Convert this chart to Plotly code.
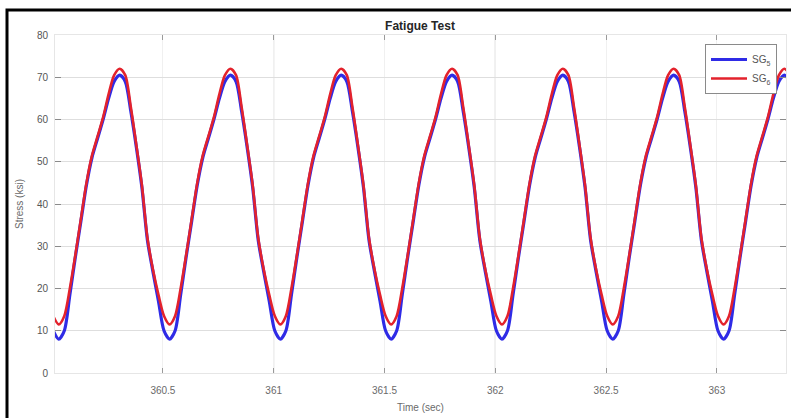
import plotly.graph_objects as go

# ---- data ----
t_start = 360.005          # first sample (s)
t_step = 0.025             # sample spacing (s)

sg5 = [10,
       8, 10, 18.5, 27.5, 36, 44.5, 51, 55.5, 60, 65, 69, 70.5, 69, 62, 53.5, 44, 31.5, 24, 17, 10,
       8, 10, 18.5, 27.5, 36, 44.5, 51, 55.5, 60, 65, 69, 70.5, 69, 62, 53.5, 44, 31.5, 24, 17, 10,
       8, 10, 18.5, 27.5, 36, 44.5, 51, 55.5, 60, 65, 69, 70.5, 69, 62, 53.5, 44, 31.5, 24, 17, 10,
       8, 10, 18.5, 27.5, 36, 44.5, 51, 55.5, 60, 65, 69, 70.5, 69, 62, 53.5, 44, 31.5, 24, 17, 10,
       8, 10, 18.5, 27.5, 36, 44.5, 51, 55.5, 60, 65, 69, 70.5, 69, 62, 53.5, 44, 31.5, 24, 17, 10,
       8, 10, 18.5, 27.5, 36, 44.5, 51, 55.5, 60, 65, 69, 70.5, 69, 62, 53.5, 44, 31.5, 24, 17, 10,
       8, 10, 18.5, 27.5, 36, 44.5, 51, 55.5, 60, 65, 69, 70.5, 69]

sg6 = [13.5,
       11.5, 13.5, 20, 28, 36.5, 45, 51.5, 56, 60.5, 66, 70.5, 72, 70.5, 63, 54, 44.5, 32, 24.5, 18.5, 13.5,
       11.5, 13.5, 20, 28, 36.5, 45, 51.5, 56, 60.5, 66, 70.5, 72, 70.5, 63, 54, 44.5, 32, 24.5, 18.5, 13.5,
       11.5, 13.5, 20, 28, 36.5, 45, 51.5, 56, 60.5, 66, 70.5, 72, 70.5, 63, 54, 44.5, 32, 24.5, 18.5, 13.5,
       11.5, 13.5, 20, 28, 36.5, 45, 51.5, 56, 60.5, 66, 70.5, 72, 70.5, 63, 54, 44.5, 32, 24.5, 18.5, 13.5,
       11.5, 13.5, 20, 28, 36.5, 45, 51.5, 56, 60.5, 66, 70.5, 72, 70.5, 63, 54, 44.5, 32, 24.5, 18.5, 13.5,
       11.5, 13.5, 20, 28, 36.5, 45, 51.5, 56, 60.5, 66, 70.5, 72, 70.5, 63, 54, 44.5, 32, 24.5, 18.5, 13.5,
       11.5, 13.5, 20, 28, 36.5, 45, 51.5, 56, 60.5, 66, 70.5, 72, 70.5]

x_tick_vals = [360.5, 361, 361.5, 362, 362.5, 363]
x_tick_text = ["360.5", "361", "361.5", "362", "362.5", "363"]
y_tick_vals = [0, 10, 20, 30, 40, 50, 60, 70, 80]

time = [round(t_start + i * t_step, 4) for i in range(len(sg5))]

# ---- figure ----
fig = go.Figure()
fig.add_trace(go.Scatter(x=time, y=sg5, mode="lines", name="SG<sub>5</sub>",
                         line=dict(color="#2f2be6", width=3.2, shape="spline", smoothing=0.8)))
fig.add_trace(go.Scatter(x=time, y=sg6, mode="lines", name="SG<sub>6</sub>",
                         line=dict(color="#e3222c", width=2.6, shape="spline", smoothing=0.8)))

font_fam = "Liberation Sans, Arial, sans-serif"

fig.update_layout(
    width=791, height=418,
    margin=dict(l=55, r=5, t=35, b=45),
    paper_bgcolor="white", plot_bgcolor="white",
    font=dict(family=font_fam, size=10, color="#555555"),
    showlegend=True,
    title=dict(text="<b>Fatigue Test</b>", x=0.531, xanchor="center",
               y=1 - 26 / 418, yanchor="middle",
               font=dict(family=font_fam, size=12, color="#262626")),
    legend=dict(x=(777 - 55) / 731, xanchor="right", y=(373 - 44) / 338, yanchor="top",
                bgcolor="white", bordercolor="#8a8a8a", borderwidth=1,
                font=dict(family=font_fam, size=10, color="#555555"),
                tracegroupgap=0, itemwidth=36),
    xaxis=dict(range=[360.013, 363.312], tickvals=x_tick_vals, ticktext=x_tick_text,
               showgrid=True, gridcolor="#f0f0f0", gridwidth=1,
               ticks="inside", ticklen=5, tickcolor="#9a9a9a", mirror="ticks",
               showline=True, linecolor="#e6e6e6", linewidth=1,
               zeroline=False, ticklabelstandoff=8,
               tickfont=dict(size=10, color="#6a6a6a")),
    yaxis=dict(range=[0, 80], tickvals=y_tick_vals,
               showgrid=True, gridcolor="#dedede", gridwidth=1,
               ticks="inside", ticklen=6, tickcolor="#8a8a8a", mirror="ticks",
               showline=True, linecolor="#e6e6e6", linewidth=1,
               zeroline=False, ticklabelstandoff=4,
               tickfont=dict(size=10, color="#555555")),
    annotations=[
        dict(text="Time (sec)", xref="paper", yref="paper", x=0.5, y=(373 - 407) / 338,
             xanchor="center", yanchor="middle", showarrow=False,
             font=dict(family=font_fam, size=10, color="#6a6a6a")),
        dict(text="Stress (ksi)", xref="paper", yref="paper", x=(19 - 55) / 731, y=0.5,
             xanchor="center", yanchor="middle", showarrow=False, textangle=-90,
             font=dict(family=font_fam, size=10, color="#6a6a6a")),
    ],
    shapes=[
        # darker vertical grid lines at whole seconds
        dict(type="line", xref="x", yref="paper", x0=361, x1=361, y0=0, y1=1,
             line=dict(color="#c4c4c4", width=1), layer="below"),
        dict(type="line", xref="x", yref="paper", x0=362, x1=362, y0=0, y1=1,
             line=dict(color="#c4c4c4", width=1), layer="below"),
        # outer black frame of the scanned figure
        dict(type="rect", xref="paper", yref="paper",
             x0=(7 - 55) / 731, x1=(800 - 55) / 731,
             y0=(373 - 430) / 338, y1=(373 - 10) / 338,
             line=dict(color="black", width=3), fillcolor="rgba(0,0,0,0)"),
    ],
)

fig.write_html("out.html")
